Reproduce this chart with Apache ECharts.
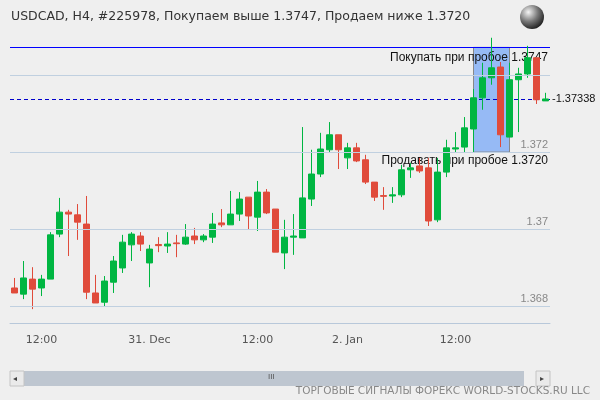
<!DOCTYPE html>
<html>
<head>
<meta charset="utf-8">
<script src="https://cdn.jsdelivr.net/npm/echarts@6/dist/echarts.min.js"></script>
<style>
  html, body { margin: 0; padding: 0; background: #efefef; }
  #chart { width: 600px; height: 400px; }
</style>
</head>
<body>
<div id="chart"></div>
<script>
// [open, close, low, high]
const candles = [
  [1.36847, 1.36834, 1.36834, 1.36873],
  [1.36831, 1.36873, 1.36818, 1.36917],
  [1.3687, 1.36844, 1.36792, 1.36901],
  [1.36847, 1.3687, 1.36826, 1.36881],
  [1.3687, 1.36985, 1.3687, 1.36992],
  [1.36987, 1.37044, 1.36979, 1.37081],
  [1.37044, 1.37039, 1.3693, 1.3705],
  [1.37037, 1.37018, 1.36972, 1.37065],
  [1.37013, 1.36836, 1.36818, 1.37086],
  [1.36834, 1.36808, 1.36808, 1.36881],
  [1.3681, 1.36865, 1.368, 1.36878],
  [1.36862, 1.36917, 1.36834, 1.3693],
  [1.36899, 1.36966, 1.36886, 1.36985],
  [1.36959, 1.36987, 1.36917, 1.36992],
  [1.36982, 1.36961, 1.36943, 1.36992],
  [1.36912, 1.36948, 1.36849, 1.36959],
  [1.3696, 1.36957, 1.3694, 1.36979],
  [1.36956, 1.36961, 1.36938, 1.36992],
  [1.36964, 1.36962, 1.36927, 1.36985],
  [1.36961, 1.36979, 1.36959, 1.37013],
  [1.36982, 1.36972, 1.36961, 1.37003],
  [1.36972, 1.36982, 1.36966, 1.36987],
  [1.36979, 1.37013, 1.36964, 1.37042],
  [1.37016, 1.37011, 1.37005, 1.37052],
  [1.37011, 1.37039, 1.37011, 1.37099],
  [1.37039, 1.37078, 1.37021, 1.37096],
  [1.37083, 1.37034, 1.37, 1.37083],
  [1.37031, 1.37096, 1.36995, 1.37125],
  [1.37096, 1.37042, 1.37039, 1.37104],
  [1.37052, 1.3694, 1.3694, 1.37052],
  [1.36938, 1.36979, 1.36896, 1.37024],
  [1.36979, 1.36982, 1.36933, 1.37039],
  [1.36977, 1.37081, 1.36977, 1.37265],
  [1.37078, 1.37143, 1.3706, 1.37206],
  [1.37143, 1.37208, 1.37135, 1.3725],
  [1.37206, 1.37245, 1.37198, 1.37278],
  [1.37245, 1.37206, 1.37156, 1.37245],
  [1.37185, 1.37211, 1.37156, 1.37224],
  [1.37211, 1.37177, 1.37174, 1.37224],
  [1.3718, 1.37122, 1.37117, 1.37193],
  [1.37122, 1.37083, 1.37073, 1.37122],
  [1.37087, 1.37085, 1.3705, 1.37109],
  [1.37086, 1.37089, 1.37068, 1.37109],
  [1.37089, 1.37154, 1.37083, 1.37167],
  [1.37154, 1.37159, 1.37133, 1.37172],
  [1.37164, 1.37151, 1.37146, 1.37185],
  [1.37159, 1.37021, 1.37008, 1.37185],
  [1.37024, 1.37148, 1.37018, 1.37185],
  [1.37148, 1.37211, 1.37135, 1.37232],
  [1.37208, 1.37211, 1.372, 1.37252],
  [1.37213, 1.37263, 1.372, 1.37291],
  [1.3726, 1.37341, 1.372, 1.37364],
  [1.37341, 1.37393, 1.3731, 1.37432],
  [1.37393, 1.37419, 1.37375, 1.37497],
  [1.37421, 1.37245, 1.37213, 1.37434],
  [1.37239, 1.37388, 1.37239, 1.37432],
  [1.37388, 1.37403, 1.37252, 1.37419],
  [1.37403, 1.37445, 1.37393, 1.37476],
  [1.37445, 1.37336, 1.37325, 1.37445],
  [1.37333, 1.37338, 1.37333, 1.37354]
];

// x labels by candle index
const tickLabels = { 3: "12:00", 15: "31. Dec", 27: "12:00", 37: "2. Jan", 49: "12:00" };
const categories = candles.map((c, i) => tickLabels[i] || "");

const gridLevels = [1.368, 1.370, 1.372, 1.374];
const gridLevelLabels = ["1.368", "1.37", "1.372", ""];
const buyLevel = 1.3747;
const sellLevel = 1.3720;
const lastPrice = 1.37338;
const boxStart = 51;
const boxEnd = 55;
const boxTop = 1.37472;

const chart = echarts.init(document.getElementById("chart"));
const empty = categories.map(() => null);
const plotLeft = 10;
const plotRight = 550;

chart.setOption({
  backgroundColor: "#efefef",
  animation: false,
  title: {
    text: "USDCAD, H4, #225978, Покупаем выше 1.3747, Продаем ниже 1.3720",
    left: 6,
    top: 5,
    textStyle: { fontFamily: "DejaVu Sans", fontSize: 12.5, fontWeight: "normal", color: "#333" }
  },
  grid: { left: plotLeft, right: 600 - plotRight, top: 47, bottom: 77 },
  xAxis: {
    type: "category",
    data: categories,
    boundaryGap: true,
    axisLine: { lineStyle: { color: "#b8c8da" } },
    axisTick: {
      alignWithLabel: true,
      interval: (i) => categories[i] !== "",
      length: 9,
      lineStyle: { color: "#b8c8da" }
    },
    axisLabel: {
      interval: (i) => categories[i] !== "",
      color: "#555",
      fontSize: 11,
      margin: 12,
      fontFamily: "DejaVu Sans"
    },
    splitLine: { show: false }
  },
  yAxis: {
    type: "value",
    min: 1.36756,
    max: 1.37473,
    show: false,
    splitLine: { show: false }
  },
  series: [
    {
      // grid levels
      type: "line",
      data: empty,
      silent: true,
      z: 1,
      markLine: {
        symbol: "none",
        silent: true,
        precision: 5,
        lineStyle: { color: "#c0d0e0", type: "solid", width: 1 },
        data: gridLevels.map((v, i) => ({
          yAxis: v,
          label: {
            show: true,
            formatter: gridLevelLabels[i],
            position: "insideEndTop",
            color: "#888",
            fontSize: 11,
            distance: 2
          }
        }))
      }
    },
    {
      // breakout box
      type: "line",
      data: empty,
      silent: true,
      z: 2,
      markArea: {
        silent: true,
        itemStyle: { color: "rgba(140,180,245,0.9)", borderColor: "#888", borderWidth: 1 },
        data: [[{ xAxis: boxStart, yAxis: sellLevel }, { xAxis: boxEnd, yAxis: boxTop }]]
      }
    },
    {
      type: "candlestick",
      data: candles,
      barWidth: 7,
      clip: false,
      z: 3,
      itemStyle: {
        color: "#00b642",
        color0: "#e04b3b",
        borderColor: "#00b642",
        borderColor0: "#e04b3b",
        borderWidth: 1
      }
    }
  ]
});

// signal lines placed through the y scale
const py = (v) => chart.convertToPixel({ yAxisIndex: 0 }, v);
const yBuy = Math.round(py(boxTop)) + 0.5;
const ySell = py(sellLevel);
const yLast = Math.round(py(lastPrice)) + 0.5;
const labelFont = "12px sans-serif";

chart.setOption({
  graphic: [
    { type: "line", z: 1, silent: true, shape: { x1: plotLeft, y1: yBuy, x2: plotRight, y2: yBuy }, style: { stroke: "#0000ff", lineWidth: 1 } },
    { type: "line", z: 1, silent: true, shape: { x1: plotLeft, y1: yLast, x2: plotRight, y2: yLast }, style: { stroke: "#0000cc", lineWidth: 1, lineDash: [4, 3] } },
    { type: "text", z: 1, silent: true, x: plotRight - 2, y: yBuy + 4, style: { text: "Покупать при пробое " + buyLevel.toFixed(4), fill: "#111", font: labelFont, textAlign: "right" } },
    { type: "text", z: 1, silent: true, x: plotRight - 2, y: ySell + 3, style: { text: "Продавать при пробое " + sellLevel.toFixed(4), fill: "#111", font: labelFont, textAlign: "right" } },
    { type: "text", z: 1, silent: true, x: plotRight + 2, y: yLast - 6, style: { text: "-" + lastPrice.toFixed(5), fill: "#111", font: "11px sans-serif" } },
    {
      type: "circle",
      shape: { cx: 532, cy: 17, r: 12 },
      style: {
        fill: new echarts.graphic.RadialGradient(0.35, 0.3, 0.8, [
          { offset: 0, color: "#f4f4f4" },
          { offset: 0.5, color: "#777" },
          { offset: 1, color: "#111" }
        ])
      }
    },
    { type: "rect", shape: { x: 24, y: 371, width: 500, height: 15 }, style: { fill: "#bec6d0" } },
    { type: "rect", shape: { x: 10, y: 371, width: 14, height: 15 }, style: { fill: "#eaeaea", stroke: "#c4c4c4" } },
    { type: "rect", shape: { x: 536, y: 371, width: 14, height: 15 }, style: { fill: "#eaeaea", stroke: "#c4c4c4" } },
    { type: "text", left: 13, top: 375, style: { text: "◂", fill: "#444", fontSize: 8 } },
    { type: "text", left: 540, top: 375, style: { text: "▸", fill: "#444", fontSize: 8 } },
    { type: "text", left: 268, top: 373, style: { text: "III", fill: "#555", fontSize: 8 } },
    {
      type: "text",
      right: 10,
      top: 386,
      style: { text: "ТОРГОВЫЕ СИГНАЛЫ ФОРЕКС WORLD-STOCKS.RU LLC", fill: "#888", fontSize: 10.5, fontFamily: "DejaVu Sans" }
    }
  ]
});
</script>
</body>
</html>
